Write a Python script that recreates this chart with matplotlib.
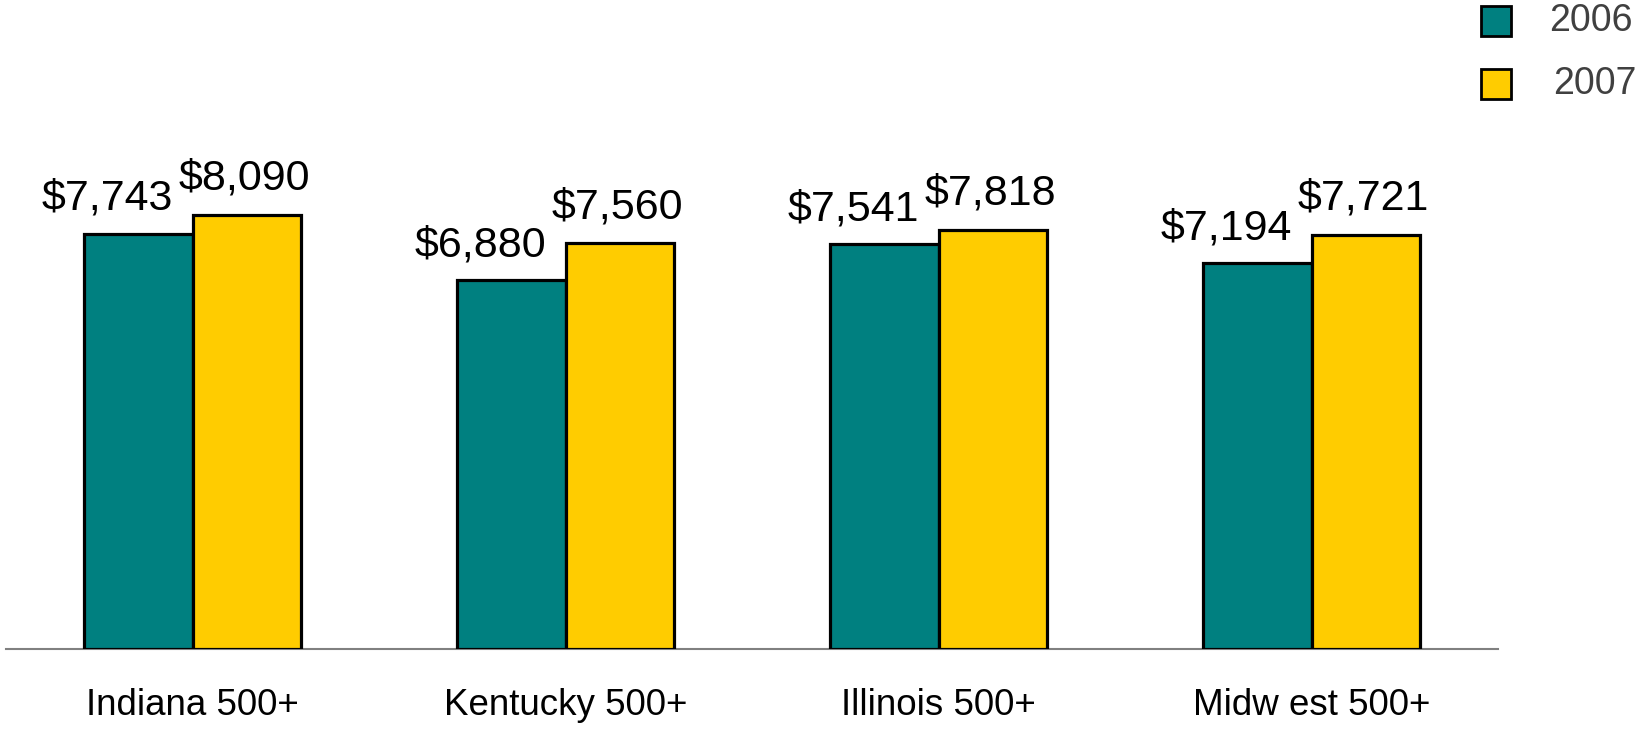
import numpy as np
import matplotlib.pyplot as plt
from matplotlib.patches import Rectangle

plt.rcParams['font.family'] = ['Liberation Sans', 'DejaVu Sans']

categories = ["Indiana 500+", "Kentucky 500+", "Illinois 500+", "Midw est 500+"]
years = ["2006", "2007"]
values_2006 = [7743, 6880, 7541, 7194]
values_2007 = [8090, 7560, 7818, 7721]

TEAL = "#008080"
GOLD = "#FFCC00"

fig = plt.figure(figsize=(16.36, 7.30), dpi=100)
ax = fig.add_axes([6 / 1636, 81 / 730, 1492 / 1636, 649 / 730])

x = np.arange(len(categories))
w = 0.292
b1 = ax.bar(x - w / 2, values_2006, w, color=TEAL, edgecolor="black", linewidth=2.3, zorder=3)
b2 = ax.bar(x + w / 2, values_2007, w, color=GOLD, edgecolor="black", linewidth=2.3, zorder=3)

# value labels, the 2006 ones sit a little left of their bars
for rect, v in zip(b1, values_2006):
    ax.annotate(f"${v:,}", (rect.get_x() + rect.get_width() / 2, v),
                xytext=(-22, 17), textcoords="offset points",
                ha="center", va="baseline", fontsize=31)
for rect, v in zip(b2, values_2007):
    ax.annotate(f"${v:,}", (rect.get_x() + rect.get_width() / 2, v),
                xytext=(-2, 18), textcoords="offset points",
                ha="center", va="baseline", fontsize=31)

ax.set_xlim(-0.5, 3.5)
ax.set_ylim(0, 12097)
ax.set_xticks(x)
ax.set_xticklabels(categories, fontsize=26.5)
ax.tick_params(axis="x", length=0, pad=28)
ax.set_yticks([])
for side in ["top", "right", "left"]:
    ax.spines[side].set_visible(False)
ax.spines["bottom"].set_color("#808080")
ax.spines["bottom"].set_linewidth(1.5)
ax.patch.set_alpha(0)

# legend drawn by hand in the top right corner
for i, (label, col) in enumerate(zip(years, [TEAL, GOLD])):
    y0 = 1 - (36 + 63 * i) / 730
    fig.add_artist(Rectangle((1481 / 1636, y0), 30 / 1636, 30 / 730,
                             transform=fig.transFigure, facecolor=col,
                             edgecolor="black", linewidth=2))
    fig.text((1549 + 4 * i) / 1636, y0 + 15 / 730, label, fontsize=27,
             color="#404040", va="center", ha="left")

fig.savefig("out.png", dpi=100)
